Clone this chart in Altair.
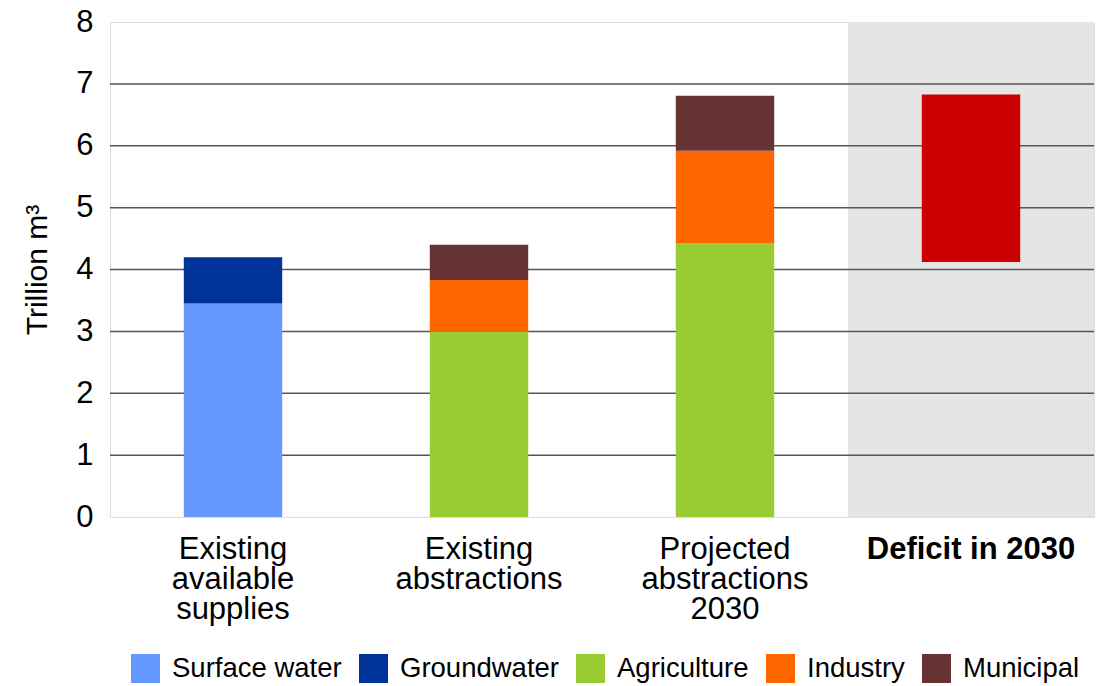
import altair as alt
import pandas as pd

categories = ["Existing available supplies", "Existing abstractions",
              "Projected abstractions 2030", "Deficit in 2030"]
label_lines = [["Existing", "available", "supplies"],
               ["Existing", "abstractions"],
               ["Projected", "abstractions", "2030"],
               ["Deficit in 2030"]]

series = ["Surface water", "Groundwater", "Agriculture", "Industry", "Municipal"]
colors = ["#6699FF", "#003399", "#99CC33", "#FF6600", "#663333"]

seg_category = ["Existing available supplies", "Existing available supplies",
                "Existing abstractions", "Existing abstractions", "Existing abstractions",
                "Projected abstractions 2030", "Projected abstractions 2030",
                "Projected abstractions 2030"]
seg_series = ["Surface water", "Groundwater",
              "Agriculture", "Industry", "Municipal",
              "Agriculture", "Industry", "Municipal"]
seg_values = [3.45, 0.75,
              3.0, 0.83, 0.57,
              4.43, 1.49, 0.89]

deficit_category = ["Deficit in 2030"]
deficit_low = [4.12]
deficit_high = [6.83]

y_ticks = [0, 1, 2, 3, 4, 5, 6, 7, 8]
grid_values = [1, 2, 3, 4, 5, 6, 7]

seg_df = pd.DataFrame({
    "category": seg_category,
    "series": seg_series,
    "value": seg_values,
    "order": [series.index(s) for s in seg_series],
})
def_df = pd.DataFrame({"category": deficit_category, "low": deficit_low, "high": deficit_high})
bg_df = pd.DataFrame({"category": deficit_category, "lo": [y_ticks[0]], "hi": [y_ticks[-1]]})
grid_df = pd.DataFrame({"y": grid_values})

parts = []
for c, lines in zip(categories, label_lines):
    arr = "[" + ",".join("'" + l + "'" for l in lines) + "]"
    parts.append(f"datum.value == '{c}' ? {arr}")
label_expr = " : ".join(parts) + " : datum.label"

xscale = alt.Scale(domain=categories, paddingInner=0.6, paddingOuter=0.3)
yscale = alt.Scale(domain=[0, 8], nice=False)

x_axis = alt.Axis(
    title=None, labelAngle=0, labelFontSize=31, labelLineHeight=30,
    labelPadding=17, labelBaseline="top", ticks=False, domain=False,
    labelExpr=label_expr, labelLimit=400, labelColor="black",
    labelFontWeight=alt.condition("datum.value == 'Deficit in 2030'",
                                  alt.value("bold"), alt.value("normal")),
)
y_axis = alt.Axis(
    title="Trillion m³", values=y_ticks, format="d", labelFontSize=31, labelPadding=17,
    ticks=False, domain=False, grid=False, labelColor="black",
    titleFontSize=30, titleFontWeight="normal", titleColor="black", titlePadding=23,
)

bg = alt.Chart(bg_df).mark_bar(color="#E5E5E5", width=alt.RelativeBandSize(2.5)).encode(
    x=alt.X("category:N", scale=xscale, axis=x_axis, sort=categories),
    y=alt.Y("lo:Q", scale=yscale, axis=y_axis),
    y2="hi:Q",
)

grid = alt.Chart(grid_df).mark_rule(color="#555555", strokeWidth=1.5).encode(
    y=alt.Y("y:Q", scale=yscale),
)

bars = alt.Chart(seg_df).mark_bar().encode(
    x=alt.X("category:N", scale=xscale, sort=categories),
    y=alt.Y("value:Q", stack="zero", scale=yscale),
    color=alt.Color("series:N", scale=alt.Scale(domain=series, range=colors),
                    legend=alt.Legend(title=None, orient="none", legendX=21, legendY=632,
                                      direction="horizontal", symbolType="square",
                                      symbolSize=841, symbolStrokeWidth=0,
                                      labelFontSize=27.5, labelOffset=12, columnPadding=17,
                                      labelColor="black", padding=0, labelLimit=400)),
    order=alt.Order("order:Q"),
)

deficit = alt.Chart(def_df).mark_bar(color="#CC0000").encode(
    x=alt.X("category:N", scale=xscale, sort=categories),
    y=alt.Y("low:Q", scale=yscale),
    y2="high:Q",
)

chart = alt.layer(bg, grid, bars, deficit).properties(
    width=984, height=495,
    autosize=alt.AutoSizeParams(type="none"),
    padding={"left": 110, "top": 22, "right": 2, "bottom": 169},
).configure_view(
    stroke="black", strokeWidth=2
).configure(
    font="Liberation Sans"
)

chart.save("out.html", embed_options={"renderer": "svg", "actions": False})
